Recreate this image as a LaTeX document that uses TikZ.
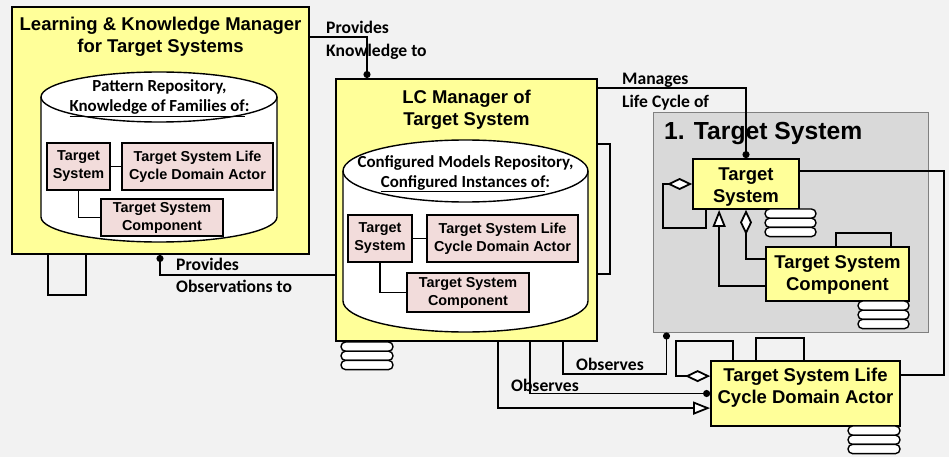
\documentclass[tikz,border=0pt]{standalone}
\usepackage{fontspec}
\setmainfont{Liberation Sans}
\newfontfamily\calib{Carlito}
\usetikzlibrary{arrows.meta}

\definecolor{pagebg}{HTML}{F2F2F2}
\definecolor{mgryellow}{HTML}{FFFF99}
\definecolor{clspink}{HTML}{F2DCDB}
\definecolor{framegray}{HTML}{D9D9D9}
\definecolor{frameline}{HTML}{808080}

% three stacked rounded "pills": left x, top y (downwards), width
\newcommand\pillstack[3]{%
  \foreach \k in {0,1,2}{\draw[pill] ({#1},{-(#2)-9.2*\k}) rectangle ++(#3,-9.2);}}

\begin{document}
\begin{tikzpicture}[x=1pt,y=1pt,
  box/.style={draw, line width=2pt, fill=mgryellow, inner sep=0pt},
  cls/.style={draw, line width=1.8pt, fill=mgryellow, inner sep=0pt},
  pinkcls/.style={draw, line width=1.6pt, fill=clspink, inner sep=0pt, align=center,
    font=\bfseries\fontsize{14.4}{18}\selectfont},
  hdr/.style={align=center, inner sep=0pt, font=\bfseries\fontsize{18.5}{22}\selectfont},
  lbl/.style={align=left, inner sep=0pt, anchor=west, font=\calib\bfseries\fontsize{17.6}{22.5}\selectfont},
  cylhead/.style={align=center, inner sep=0pt, font=\calib\bfseries\fontsize{16.9}{20}\selectfont},
  drum/.style={draw, line width=1.4pt, fill=white},
  conn/.style={line width=1.8pt},
  pill/.style={draw, line width=1.4pt, fill=white, rounded corners=4.5pt},
  dotend/.style={-{Circle[length=7pt]}},
  aggend/.style={-{Diamond[length=25pt, width=12pt, fill=white]}},
  genend/.style={-{Triangle[length=17pt, width=13pt, fill=white]}}
]
\fill[pagebg] (0,0) rectangle (949,-457);
\useasboundingbox (0,0) rectangle (949,-457);

% ---- container of the managed target system
\node[draw=frameline, fill=framegray, line width=1pt, inner sep=0pt,
      minimum width=275pt, minimum height=219pt] (tsframe) at (790.5,-222.5) {};
\node[anchor=base west, inner sep=0pt, font=\bfseries\fontsize{24.7}{28}\selectfont]
      (tstitle) at (664,-140) {1. Target System};

% ---- Learning & Knowledge Manager
\node[box, minimum width=297pt, minimum height=247pt] (lkm) at (160.5,-130.5) {};
\node[hdr] (lkmtitle) at (160.5,-36.5) {Learning \& Knowledge Manager\\for Target Systems};
\draw[drum] (41,-97) -- (41,-217) arc[start angle=180, end angle=360, x radius=118, y radius=25]
  -- (277,-97) arc[start angle=0, end angle=180, x radius=118, y radius=25] -- cycle;
\draw[line width=1.4pt] (41,-97) arc[start angle=180, end angle=360, x radius=118, y radius=25];
\node[cylhead] (lkmrepo) at (159.5,-98.5) {Pattern Repository,\\\underline{Knowledge of Families of}:};
\node[pinkcls, minimum width=63pt, minimum height=47pt] (ts1) at (78.5,-166.5) {Target\\System};
\node[pinkcls, minimum width=151pt, minimum height=47pt] (act1) at (197.5,-166.5) {Target System Life\\Cycle Domain Actor};
\node[pinkcls, minimum width=122pt, minimum height=37pt] (comp1) at (162,-217.5) {Target System\\Component};
\draw[conn] (ts1.east) -- (act1.west);
\draw[conn] (ts1.south) |- (comp1.west);

% ---- LC Manager
\node[box, minimum width=261pt, minimum height=262pt] (lc) at (466.5,-210) {};
\node[hdr] (lctitle) at (466.5,-109.5) {LC Manager of\\Target System};
\draw[drum] (343,-171) -- (343,-301) arc[start angle=180, end angle=360, x radius=122.5, y radius=31]
  -- (588,-171) arc[start angle=0, end angle=180, x radius=122.5, y radius=31] -- cycle;
\draw[line width=1.4pt] (343,-171) arc[start angle=180, end angle=360, x radius=122.5, y radius=31];
\node[cylhead] (lcrepo) at (465.5,-173.5) {Configured Models Repository,\\\underline{Configured Instances of}:};
\node[pinkcls, minimum width=64pt, minimum height=47pt] (ts2) at (380,-238.5) {Target\\System};
\node[pinkcls, minimum width=151pt, minimum height=47pt] (act2) at (502.5,-238.5) {Target System Life\\Cycle Domain Actor};
\node[pinkcls, minimum width=122pt, minimum height=39pt] (comp2) at (468,-292.5) {Target System\\Component};
\draw[conn] (ts2.east) -- (act2.west);
\draw[conn] (ts2.south) |- (comp2.west);

% ---- target system classes
\node[cls, minimum width=106pt, minimum height=50pt] (ts3) at (746,-184) {};
\node[hdr] (ts3text) at (746,-187) {Target\\System};
\node[cls, minimum width=143pt, minimum height=54pt] (comp3) at (837.5,-274) {};
\node[hdr] (comp3text) at (837.5,-274.5) {Target System\\Component};
\node[cls, minimum width=189pt, minimum height=65pt] (act3) at (805.5,-393.5) {};
\node[hdr] (act3text) at (805.5,-387.5) {Target System Life\\Cycle Domain Actor};

% ---- connectors
\draw[conn] ([xshift=37pt]lkm.south west) -- ++(0,-40) -| ([xshift=75pt]lkm.south west);
\draw[conn, dotend] ([yshift=-31pt]lkm.north east) -| ([xshift=32pt]lc.north west);
\draw[conn, dotend] ([yshift=-197pt]lc.north west) -| ([xshift=149pt]lkm.south west);
\draw[conn] ([yshift=-66pt]lc.north east) -- ++(12,0) |- ([yshift=-196pt]lc.north east);
\draw[conn, dotend] ([yshift=-10pt]lc.north east) -| (ts3.north);

\draw[conn, aggend] ([xshift=14pt]ts3.south west) -- ++(0,-18) -| ([xshift=-29pt]ts3.west) -- (ts3.west);
\draw[conn, genend] ([yshift=-40pt]comp3.north west) -| ([xshift=27pt]ts3.south west);
\draw[conn, aggend] ([yshift=-13pt]comp3.north west) -| (ts3.south);
\draw[conn] ([xshift=71pt]comp3.north west) -- ++(0,13) -| ([xshift=126pt]comp3.north west);
\draw[conn] ([yshift=-13pt]ts3.north east) -- ++(144,0) |- ([yshift=-15pt]act3.north east);

\draw[conn, aggend] ([xshift=23pt]act3.north west) -- ++(0,19) -| ([xshift=-34pt,yshift=-16pt]act3.north west) -- ([yshift=-16pt]act3.north west);
\draw[conn] ([xshift=46pt]act3.north west) -- ++(0,22) -| ([xshift=94pt]act3.north west);

\draw[conn, dotend] ([xshift=228pt]lc.south west) -- ++(0,-32) -| ([xshift=14pt]tsframe.south west);
\draw[conn, dotend] ([xshift=195pt]lc.south west) |- (act3.west);
\draw[conn, genend] ([xshift=163pt]lc.south west) |- ([yshift=-48pt]act3.north west);

% ---- multiplicity stacks
\pillstack{341}{342}{52}
\pillstack{765}{209}{51}
\pillstack{858}{301}{51}
\pillstack{848}{426}{52}

% ---- connector labels
\node[lbl] (lblknow) at (326,-40.5) {Provides\\Knowledge to};
\node[lbl] (lblobs) at (176,-275.5) {Provides\\Observations to};
\node[lbl] (lblman) at (622,-91.5) {Manages\\Life Cycle of};
\node[lbl] (lblobsa) at (576,-364) {Observes};
\node[lbl] (lblobsb) at (511,-385) {Observes};
\end{tikzpicture}
\end{document}
